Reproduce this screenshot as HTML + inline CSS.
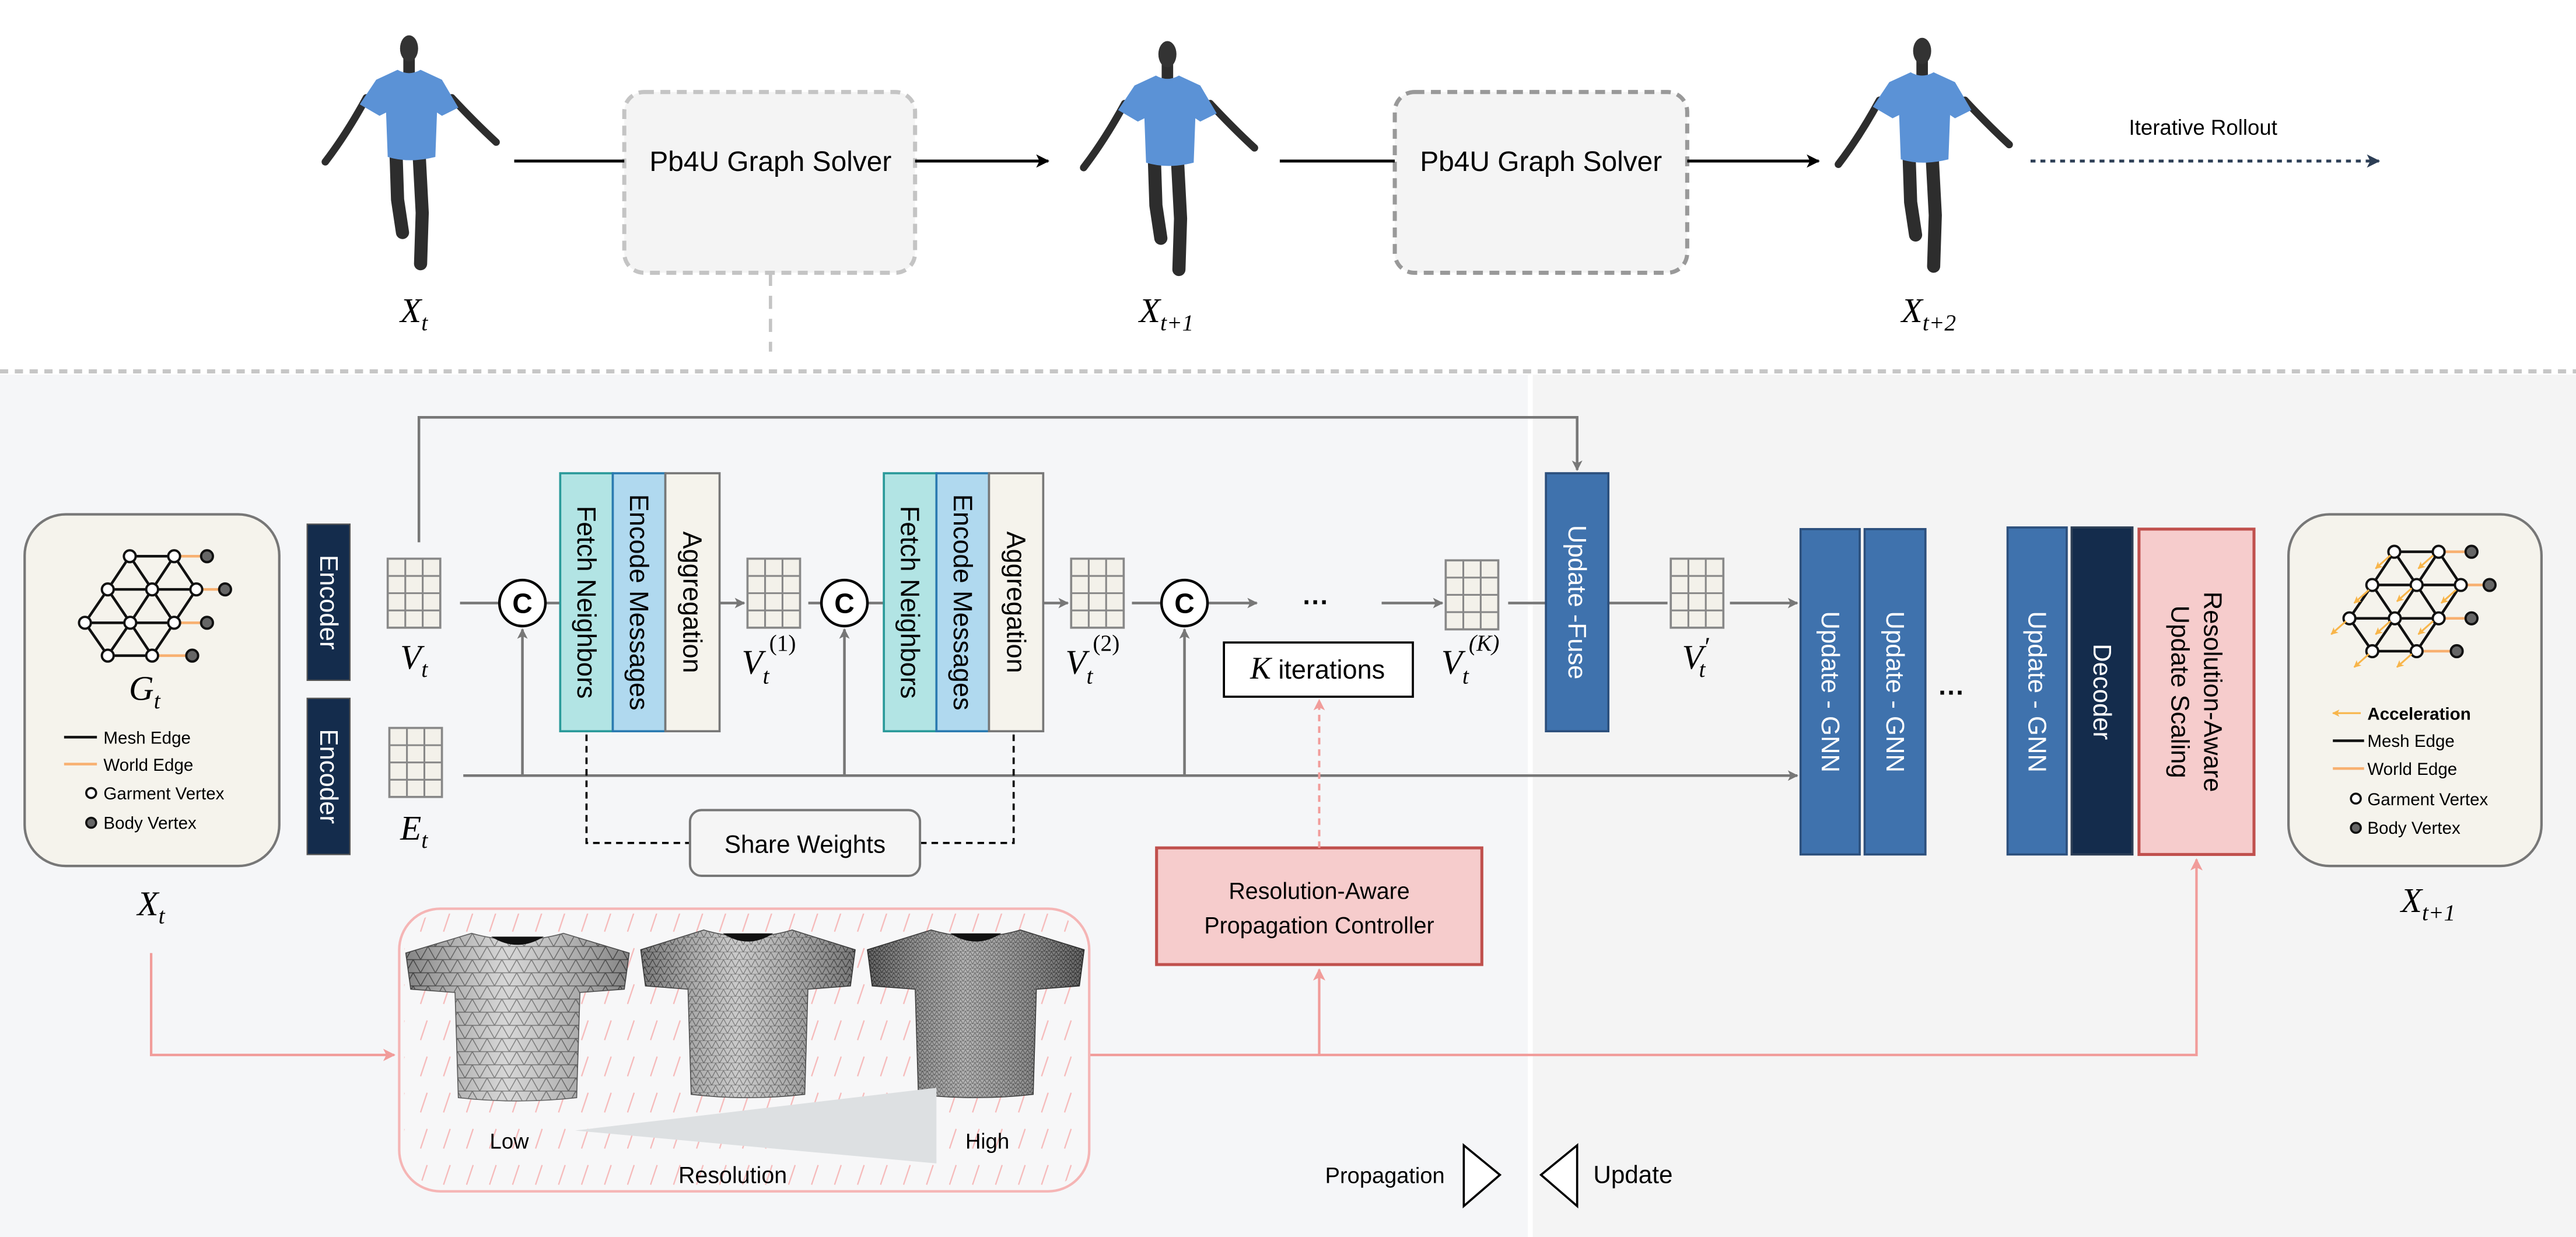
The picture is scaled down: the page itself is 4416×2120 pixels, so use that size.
<!DOCTYPE html>
<html><head><meta charset="utf-8"><style>
html,body{margin:0;padding:0;background:#fff;}
svg{display:block;}
text{font-family:"Liberation Sans",sans-serif;}
.m{font-family:"Liberation Serif",serif;font-style:italic;}
.r{font-family:"Liberation Serif",serif;font-style:normal;}
</style></head><body>
<svg width="4416" height="2120" viewBox="0 0 1568 752.8" preserveAspectRatio="none" xmlns="http://www.w3.org/2000/svg">
<defs>
<marker id="ag" viewBox="0 0 10 10" refX="9" refY="5" markerWidth="4" markerHeight="4" orient="auto"><path d="M0,0 L10,5 L0,10 L2.5,5 Z" fill="#777"/></marker>
<marker id="ab" viewBox="0 0 10 10" refX="9" refY="5" markerWidth="4.5" markerHeight="4.5" orient="auto"><path d="M0,0 L10,5 L0,10 L2.5,5 Z" fill="#000"/></marker>
<marker id="an" viewBox="0 0 10 10" refX="9" refY="5" markerWidth="4.5" markerHeight="4.5" orient="auto"><path d="M0,0 L10,5 L0,10 L2.5,5 Z" fill="#2c3e55"/></marker>
<marker id="ap" viewBox="0 0 10 10" refX="9" refY="5" markerWidth="5" markerHeight="5" orient="auto"><path d="M0,0 L10,5 L0,10 L2.5,5 Z" fill="#f19c9a"/></marker>
<marker id="ao" viewBox="0 0 10 10" refX="9" refY="5" markerWidth="4" markerHeight="4" orient="auto"><path d="M0,0 L10,5 L0,10 L2.5,5 Z" fill="#f8b54a"/></marker>
<pattern id="hatch" width="14" height="22" patternUnits="userSpaceOnUse"><line x1="4" y1="17" x2="8" y2="5" stroke="#f6b9b9" stroke-width="0.8"/></pattern>
<pattern id="mesh1" width="9" height="8" patternUnits="userSpaceOnUse"><rect width="9" height="8" fill="#c9c9c9"/><path d="M0,8 L4.5,0 L9,8 M0,8 H9 M0,0 H9" stroke="#555" stroke-width="0.5" fill="none"/></pattern>
<pattern id="mesh2" width="5" height="4.5" patternUnits="userSpaceOnUse"><rect width="5" height="4.5" fill="#b8b8b8"/><path d="M0,4.5 L2.5,0 L5,4.5 M0,4.5 H5" stroke="#444" stroke-width="0.4" fill="none"/></pattern>
<pattern id="mesh3" width="3" height="2.6" patternUnits="userSpaceOnUse"><rect width="3" height="2.6" fill="#9a9a9a"/><path d="M0,2.6 L1.5,0 L3,2.6 M0,2.6 H3" stroke="#333" stroke-width="0.35" fill="none"/></pattern>
<linearGradient id="shade" x1="0" x2="1"><stop offset="0" stop-color="#000" stop-opacity="0.35"/><stop offset="0.45" stop-color="#fff" stop-opacity="0.25"/><stop offset="1" stop-color="#000" stop-opacity="0.35"/></linearGradient>
<g id="grid"><rect x="0" y="0" width="32" height="42" fill="#f3f1ea" stroke="#888" stroke-width="1.3"/><path d="M10.7,0 V42 M21.3,0 V42 M0,10.5 H32 M0,21 H32 M0,31.5 H32" stroke="#888" stroke-width="1.1"/></g>
<g id="shirt"><path d="M0,12 L40,0 Q68,8 96,0 L136,12 L133,34 L106,36 L104,100 Q68,104 32,100 L30,36 L3,34 Z"/></g>
<g id="fig">
<path d="M-26,30 Q-38,52 -51,69" stroke="#2d2d2d" stroke-width="4.5" fill="none" stroke-linecap="round"/>
<path d="M26,30 Q40,45 53,57" stroke="#2d2d2d" stroke-width="4.5" fill="none" stroke-linecap="round"/>
<path d="M-8,62 L-7,92 L-4,112" stroke="#2d2d2d" stroke-width="8" fill="none" stroke-linecap="round"/>
<path d="M6,62 L8,100 L7,131" stroke="#2d2d2d" stroke-width="8" fill="none" stroke-linecap="round"/>
<rect x="-3.5" y="6" width="7" height="10" fill="#2d2d2d"/>
<ellipse cx="0" cy="0" rx="5.5" ry="8" fill="#333"/>
<path d="M-7,13 Q0,17 7,13 L20,19 L30,36 L20,41 L17,39 L16,66 Q0,70 -13,66 L-14,39 L-18,41 L-30,34 L-20,19 Z" fill="#5b92d6"/>
</g>
<g id="graph">
<g stroke="#f8b070" stroke-width="1.6"><line x1="106" y1="338.5" x2="126" y2="338.5"/><line x1="119.5" y1="358.7" x2="137" y2="358.7"/><line x1="106" y1="379" x2="126" y2="379"/><line x1="92.6" y1="399" x2="117" y2="399"/></g>
<path fill="none" stroke="#111" stroke-width="1.6" d="M79,338.5 H106 M65.6,358.7 H119.5 M51.7,379 H106 M65.6,399 H92.6 M79,338.5 L65.6,358.7 L51.7,379 L65.6,399 M79,338.5 L92.6,358.7 L106,338.5 L119.5,358.7 L106,379 L92.6,399 M65.6,358.7 L79.3,379 L92.6,358.7 L106,379 M79.3,379 L65.6,399 M79.3,379 L92.6,399"/>
<g fill="#fff" stroke="#111" stroke-width="1.4">
<circle cx="79" cy="338.5" r="3.6"/><circle cx="106" cy="338.5" r="3.6"/><circle cx="65.6" cy="358.7" r="3.6"/><circle cx="92.6" cy="358.7" r="3.6"/><circle cx="119.5" cy="358.7" r="3.6"/><circle cx="51.7" cy="379" r="3.6"/><circle cx="79.3" cy="379" r="3.6"/><circle cx="106" cy="379" r="3.6"/><circle cx="65.6" cy="399" r="3.6"/><circle cx="92.6" cy="399" r="3.6"/>
</g>
<g fill="#666" stroke="#111" stroke-width="1.4"><circle cx="126" cy="338.5" r="3.6"/><circle cx="137" cy="358.7" r="3.6"/><circle cx="126" cy="379" r="3.6"/><circle cx="117" cy="399" r="3.6"/></g>
</g>
</defs>

<!-- TOP -->
<use href="#fig" x="249" y="29.5"/>
<use href="#fig" x="710.6" y="33"/>
<use href="#fig" x="1170" y="31"/>
<text class="m" x="252" y="196" font-size="21" text-anchor="middle">X<tspan font-size="14" dy="5">t</tspan></text>
<text class="m" x="710" y="196" font-size="21" text-anchor="middle">X<tspan font-size="14" dy="5">t+1</tspan></text>
<text class="m" x="1174" y="196" font-size="21" text-anchor="middle">X<tspan font-size="14" dy="5">t+2</tspan></text>
<rect x="380" y="56" width="177" height="110" rx="12" fill="#f4f4f4" stroke="#c4c4c4" stroke-width="2.5" stroke-dasharray="6,4"/>
<rect x="849" y="56" width="178" height="110" rx="12" fill="#f4f4f4" stroke="#999" stroke-width="2.5" stroke-dasharray="6,4"/>
<line x1="313" y1="98" x2="380" y2="98" stroke="#000" stroke-width="1.8"/>
<line x1="557" y1="98" x2="638" y2="98" stroke="#000" stroke-width="1.8" marker-end="url(#ab)"/>
<line x1="779" y1="98" x2="849" y2="98" stroke="#000" stroke-width="1.8"/>
<line x1="1027" y1="98" x2="1107" y2="98" stroke="#000" stroke-width="1.8" marker-end="url(#ab)"/>
<text x="469" y="104" font-size="17" text-anchor="middle">Pb4U Graph Solver</text>
<text x="938" y="104" font-size="17" text-anchor="middle">Pb4U Graph Solver</text>
<line x1="1236" y1="98" x2="1448" y2="98" stroke="#2c3e55" stroke-width="1.8" stroke-dasharray="3,3" marker-end="url(#an)"/>
<text x="1341" y="82" font-size="13" text-anchor="middle">Iterative Rollout</text>
<line x1="469" y1="166" x2="469" y2="214" stroke="#c4c4c4" stroke-width="2" stroke-dasharray="8,6"/>

<!-- PANELS -->
<rect x="0" y="228" width="930" height="525" fill="#f5f6f8"/>
<rect x="933" y="228" width="635" height="525" fill="#f4f4f4"/>
<line x1="0" y1="226" x2="1568" y2="226" stroke="#c6c6c6" stroke-width="2.5" stroke-dasharray="5,4"/>

<!-- Gt box -->
<rect x="15" y="313" width="155" height="214" rx="25" fill="#f5f3ec" stroke="#777" stroke-width="1.5"/>
<use href="#graph"/>
<text class="m" x="88" y="426" font-size="21" text-anchor="middle">G<tspan font-size="14" dy="5">t</tspan></text>
<line x1="39" y1="448.6" x2="59" y2="448.6" stroke="#111" stroke-width="1.6"/>
<line x1="39" y1="465" x2="59" y2="465" stroke="#f8b070" stroke-width="1.6"/>
<circle cx="55.5" cy="482.6" r="3" fill="#fff" stroke="#111" stroke-width="1.3"/>
<circle cx="55.5" cy="500.7" r="3" fill="#666" stroke="#111" stroke-width="1.3"/>
<g font-size="10.5"><text x="63" y="452.5">Mesh Edge</text><text x="63" y="469">World Edge</text><text x="63" y="486.5">Garment Vertex</text><text x="63" y="504.5">Body Vertex</text></g>
<text class="m" x="92" y="557" font-size="21" text-anchor="middle">X<tspan font-size="14" dy="5">t</tspan></text>

<!-- Encoders -->
<rect x="187" y="319" width="26" height="95" fill="#142c4c" stroke="#555" stroke-width="0.8"/>
<rect x="187" y="425" width="26" height="95" fill="#142c4c" stroke="#555" stroke-width="0.8"/>
<text transform="translate(200,366.5) rotate(90)" fill="#fff" font-size="15.5" text-anchor="middle" dominant-baseline="central">Encoder</text>
<text transform="translate(200,472.5) rotate(90)" fill="#fff" font-size="15.5" text-anchor="middle" dominant-baseline="central">Encoder</text>

<!-- grids -->
<use href="#grid" x="236" y="340"/>
<use href="#grid" x="237" y="443"/>
<use href="#grid" x="455" y="340"/>
<use href="#grid" x="652" y="340"/>
<use href="#grid" x="880" y="341"/>
<use href="#grid" x="1017" y="340"/>
<text class="m" x="252" y="407" font-size="21" text-anchor="middle">V<tspan font-size="14" dy="5">t</tspan></text>
<text class="m" x="252" y="511" font-size="21" text-anchor="middle">E<tspan font-size="14" dy="5">t</tspan></text>
<text class="m" x="468" y="410" font-size="21" text-anchor="middle">V<tspan font-size="14" dy="6">t</tspan><tspan class="r" font-size="14" dy="-20">(1)</tspan></text>
<text class="m" x="665" y="410" font-size="21" text-anchor="middle">V<tspan font-size="14" dy="6">t</tspan><tspan class="r" font-size="14" dy="-20">(2)</tspan></text>
<text class="m" x="895" y="410" font-size="21" text-anchor="middle">V<tspan font-size="14" dy="6">t</tspan><tspan font-size="14" dy="-20">(K)</tspan></text>
<text class="m" x="1032" y="407" font-size="21" text-anchor="middle">V<tspan font-size="16" dy="-8">′</tspan><tspan font-size="14" dx="-6" dy="13">t</tspan></text>

<!-- connectors -->
<g stroke="#777" stroke-width="1.6" fill="none">
<path d="M255,330 V254 H960 V286" marker-end="url(#ag)"/>
<line x1="280" y1="367" x2="304" y2="367"/>
<line x1="332" y1="367" x2="341" y2="367"/>
<line x1="438" y1="367" x2="453" y2="367" marker-end="url(#ag)"/>
<line x1="492" y1="367" x2="500" y2="367"/>
<line x1="528" y1="367" x2="538" y2="367"/>
<line x1="635" y1="367" x2="650" y2="367" marker-end="url(#ag)"/>
<line x1="689" y1="367" x2="707" y2="367"/>
<line x1="735" y1="367" x2="765" y2="367" marker-end="url(#ag)"/>
<line x1="841" y1="367" x2="878" y2="367" marker-end="url(#ag)"/>
<line x1="918" y1="367" x2="941" y2="367"/>
<line x1="979" y1="367" x2="1015" y2="367"/>
<line x1="1053" y1="367" x2="1094" y2="367" marker-end="url(#ag)"/>
<line x1="282" y1="472" x2="1094" y2="472" marker-end="url(#ag)"/>
<line x1="318" y1="472" x2="318" y2="383" marker-end="url(#ag)"/>
<line x1="514" y1="472" x2="514" y2="383" marker-end="url(#ag)"/>
<line x1="721" y1="472" x2="721" y2="383" marker-end="url(#ag)"/>
</g>
<g fill="#fff" stroke="#000" stroke-width="1.6"><circle cx="318" cy="367" r="14"/><circle cx="514" cy="367" r="14"/><circle cx="721" cy="367" r="14"/></g>
<g font-size="17" font-weight="bold" text-anchor="middle"><text x="318" y="373">C</text><text x="514" y="373">C</text><text x="721" y="373">C</text></g>
<text x="801" y="372" font-size="16" text-anchor="middle" font-weight="bold">···</text>

<!-- MP blocks -->
<g stroke-width="1.3">
<rect x="341" y="288" width="32" height="157" fill="#b2e4e4" stroke="#2a9a9a"/>
<rect x="373" y="288" width="32" height="157" fill="#b0d9ef" stroke="#2a7ab0"/>
<rect x="405" y="288" width="33" height="157" fill="#f5f3ec" stroke="#777"/>
<rect x="538" y="288" width="32" height="157" fill="#b2e4e4" stroke="#2a9a9a"/>
<rect x="570" y="288" width="32" height="157" fill="#b0d9ef" stroke="#2a7ab0"/>
<rect x="602" y="288" width="33" height="157" fill="#f5f3ec" stroke="#777"/>
</g>
<g font-size="16" text-anchor="middle" dominant-baseline="central">
<text transform="translate(357,366.5) rotate(90)">Fetch Neighbors</text>
<text transform="translate(389,366.5) rotate(90)">Encode Messages</text>
<text transform="translate(421.5,366.5) rotate(90)">Aggregation</text>
<text transform="translate(554,366.5) rotate(90)">Fetch Neighbors</text>
<text transform="translate(586,366.5) rotate(90)">Encode Messages</text>
<text transform="translate(618.5,366.5) rotate(90)">Aggregation</text>
</g>
<rect x="745" y="391" width="115" height="33" fill="#fff" stroke="#000" stroke-width="1.3"/>
<text x="802" y="413" font-size="16" text-anchor="middle"><tspan class="m" font-size="19">K</tspan> iterations</text>

<!-- share weights -->
<path d="M357,447 V513 H420 M560,513 H617 V447" stroke="#000" stroke-width="1.3" stroke-dasharray="4,3" fill="none"/>
<rect x="420" y="493" width="140" height="40" rx="7" fill="#f5f5f5" stroke="#777" stroke-width="1.4"/>
<text x="490" y="519" font-size="15" text-anchor="middle">Share Weights</text>

<!-- Update fuse -->
<rect x="941" y="288" width="38" height="157" fill="#3f72ad" stroke="#2c4f7c" stroke-width="1.3"/>
<text transform="translate(960,366.5) rotate(90)" fill="#fff" font-size="15.5" text-anchor="middle" dominant-baseline="central">Update -Fuse</text>

<!-- right blocks -->
<rect x="1096" y="322" width="36" height="198" fill="#3f72ad" stroke="#2c4f7c" stroke-width="1.3"/>
<rect x="1135" y="322" width="37" height="198" fill="#3f72ad" stroke="#2c4f7c" stroke-width="1.3"/>
<rect x="1222" y="321" width="36" height="199" fill="#3f72ad" stroke="#2c4f7c" stroke-width="1.3"/>
<rect x="1261" y="321" width="37" height="199" fill="#142c4c" stroke="#2c3e55" stroke-width="1.3"/>
<rect x="1302" y="322" width="70" height="198" fill="#f6cccc" stroke="#c0504d" stroke-width="1.8"/>
<g fill="#fff" font-size="15.5" text-anchor="middle" dominant-baseline="central">
<text transform="translate(1114,421) rotate(90)">Update - GNN</text>
<text transform="translate(1153.5,421) rotate(90)">Update - GNN</text>
<text transform="translate(1240,421) rotate(90)">Update - GNN</text>
<text transform="translate(1279.5,421) rotate(90)">Decoder</text>
</g>
<text transform="translate(1337,421) rotate(90)" font-size="15.5" text-anchor="middle" dominant-baseline="central"><tspan x="0" dy="-10">Resolution-Aware</tspan><tspan x="0" dy="20">Update Scaling</tspan></text>
<text x="1188" y="427" font-size="16" text-anchor="middle" font-weight="bold">···</text>

<!-- right graph box -->
<rect x="1393" y="313" width="154" height="214" rx="25" fill="#f5f3ec" stroke="#777" stroke-width="1.5"/>
<use href="#graph" transform="translate(1378.4,-2.7)"/>
<g stroke="#f8b54a" stroke-width="1.1" marker-end="url(#ao)">
<line x1="1455" y1="338" x2="1446" y2="346"/><line x1="1481" y1="338" x2="1472" y2="346"/>
<line x1="1442" y1="359" x2="1433" y2="367"/><line x1="1468" y1="358" x2="1459" y2="366"/><line x1="1495" y1="359" x2="1486" y2="367"/>
<line x1="1428" y1="378" x2="1419" y2="386"/><line x1="1455" y1="378" x2="1446" y2="386"/><line x1="1481" y1="378" x2="1472" y2="386"/>
<line x1="1442" y1="398" x2="1433" y2="406"/><line x1="1468" y1="398" x2="1459" y2="406"/>
</g>
<line x1="1437" y1="434" x2="1420" y2="434" stroke="#f8b54a" stroke-width="1.1" marker-end="url(#ao)"/>
<line x1="1420" y1="450.8" x2="1439" y2="450.8" stroke="#111" stroke-width="1.6"/>
<line x1="1420" y1="467.7" x2="1439" y2="467.7" stroke="#f8b070" stroke-width="1.6"/>
<circle cx="1434" cy="486" r="3" fill="#fff" stroke="#111" stroke-width="1.3"/>
<circle cx="1434" cy="503.8" r="3" fill="#666" stroke="#111" stroke-width="1.3"/>
<g font-size="10.5"><text x="1441" y="438" font-weight="bold">Acceleration</text><text x="1441" y="454.5">Mesh Edge</text><text x="1441" y="471.5">World Edge</text><text x="1441" y="490">Garment Vertex</text><text x="1441" y="507.5">Body Vertex</text></g>
<text class="m" x="1478" y="555" font-size="21" text-anchor="middle">X<tspan font-size="14" dy="5">t+1</tspan></text>

<!-- controller -->
<rect x="704" y="516" width="198" height="71" fill="#f6cccc" stroke="#c0504d" stroke-width="1.8"/>
<text x="803" y="547" font-size="14" text-anchor="middle">Resolution-Aware</text>
<text x="803" y="568" font-size="14" text-anchor="middle">Propagation Controller</text>
<line x1="803" y1="516" x2="803" y2="426" stroke="#f19c9a" stroke-width="1.4" stroke-dasharray="4,3" marker-end="url(#ap)"/>

<!-- pink lines -->
<g stroke="#f19c9a" stroke-width="1.5" fill="none">
<path d="M92,580 V642 H240" marker-end="url(#ap)"/>
<path d="M663,642 H1337 V523" marker-end="url(#ap)"/>
<line x1="803" y1="642" x2="803" y2="590" marker-end="url(#ap)"/>
</g>

<!-- mesh panel -->
<rect x="243" y="553" width="420" height="172" rx="25" fill="#f7f7f8" stroke="#f5b5b5" stroke-width="1.5"/>
<rect x="246" y="556" width="414" height="166" rx="23" fill="url(#hatch)"/>
<g transform="translate(247,568)">
<use href="#shirt" fill="url(#mesh1)" stroke="#555" stroke-width="0.6"/>
<use href="#shirt" fill="url(#shade)"/>
<path d="M52,2 Q68,12 84,2 Z" fill="#111"/>
</g>
<g transform="translate(390,566) scale(0.96,1.0)">
<use href="#shirt" fill="url(#mesh2)" stroke="#444" stroke-width="0.6"/>
<use href="#shirt" fill="url(#shade)"/>
<path d="M52,2 Q68,12 84,2 Z" fill="#111"/>
</g>
<g transform="translate(528,566) scale(0.97,1.0)">
<use href="#shirt" fill="url(#mesh3)" stroke="#333" stroke-width="0.6"/>
<use href="#shirt" fill="url(#shade)"/>
<path d="M52,2 Q68,12 84,2 Z" fill="#111"/>
</g>
<path d="M350,688 L570,662 L570,708 Z" fill="#dde0e2"/>
<text x="310" y="699" font-size="13" text-anchor="middle">Low</text>
<text x="601" y="699" font-size="13" text-anchor="middle">High</text>
<text x="446" y="720" font-size="14" text-anchor="middle">Resolution</text>

<!-- legend -->
<text x="843" y="720" font-size="13.5" text-anchor="middle">Propagation</text>
<path d="M891,697 L913,715 L891,734 Z" fill="#fff" stroke="#000" stroke-width="1.3"/>
<path d="M960,697 L938,715 L960,734 Z" fill="#fff" stroke="#000" stroke-width="1.3"/>
<text x="994" y="720" font-size="15" text-anchor="middle">Update</text>
</svg>
</body></html>
